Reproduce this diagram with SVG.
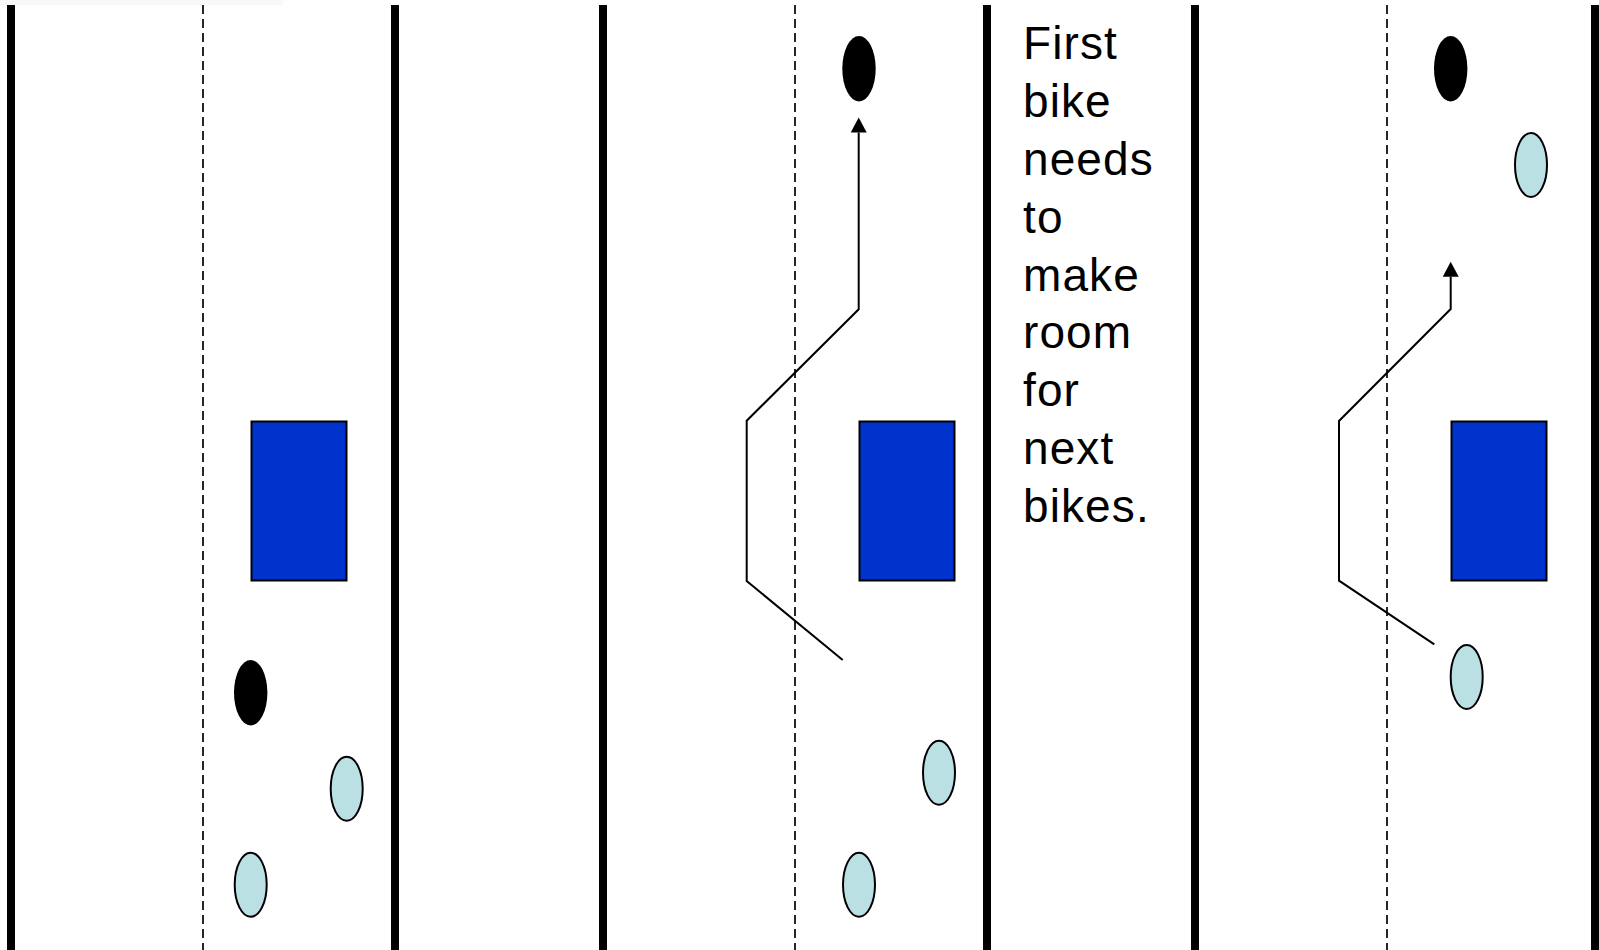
<svg xmlns="http://www.w3.org/2000/svg" width="1599" height="950" viewBox="0 0 1599 950">
<style>
.curb{stroke:#000;stroke-width:8;fill:none}
.lane{stroke:#000;stroke-width:1.7;stroke-dasharray:9 5;fill:none}
.car{fill:#0033CC;stroke:#000;stroke-width:2}
.lead{fill:#000;stroke:none}
.bike{fill:#BBE0E3;stroke:#000;stroke-width:2}
.path{fill:none;stroke:#000;stroke-width:2;stroke-linejoin:miter}
.label{font-family:"Liberation Sans",Arial,sans-serif;font-size:46px;letter-spacing:1.1px;fill:#000}
</style>
<defs>
<marker id="arrow" markerUnits="userSpaceOnUse" markerWidth="16" markerHeight="16" refX="0" refY="8" orient="auto" viewBox="0 0 16 16">
<path d="M0,0 L15,8 L0,16 z" fill="#000"/>
</marker>
</defs>
<rect x="0" y="0" width="1599" height="950" fill="#fff"/>
<rect x="0" y="0" width="283" height="5" fill="#f8f8f8"/>
<g id="road">
<line class="curb" x1="11" y1="5" x2="11" y2="950"/>
<line class="curb" x1="395" y1="5" x2="395" y2="950"/>
<line class="curb" x1="603" y1="5" x2="603" y2="950"/>
<line class="curb" x1="987" y1="5" x2="987" y2="950"/>
<line class="curb" x1="1195" y1="5" x2="1195" y2="950"/>
<line class="curb" x1="1595" y1="5" x2="1595" y2="950"/>
<line class="lane" x1="203" y1="5" x2="203" y2="950"/>
<line class="lane" x1="795" y1="5" x2="795" y2="950"/>
<line class="lane" x1="1387" y1="5" x2="1387" y2="950"/>
</g>
<g id="panel1">
<rect id="car1" class="car" x="251.5" y="421.5" width="95" height="159"/>
<ellipse id="lead1" class="lead" cx="250.7" cy="692.7" rx="16.7" ry="32.7"/>
<ellipse id="bike1a" class="bike" cx="346.7" cy="788.7" rx="16" ry="32"/>
<ellipse id="bike1b" class="bike" cx="250.7" cy="884.7" rx="16" ry="32"/>
</g>
<g id="panel2">
<rect id="car2" class="car" x="859.5" y="421.5" width="95" height="159"/>
<ellipse id="lead2" class="lead" cx="859" cy="68.7" rx="16.7" ry="32.7"/>
<ellipse id="bike2a" class="bike" cx="939" cy="772.7" rx="16" ry="32"/>
<ellipse id="bike2b" class="bike" cx="859" cy="884.7" rx="16" ry="32"/>
</g>
<g id="panel3">
<rect id="car3" class="car" x="1451.5" y="421.5" width="95" height="159"/>
<ellipse id="lead3" class="lead" cx="1450.7" cy="68.7" rx="16.7" ry="32.7"/>
<ellipse id="bike3a" class="bike" cx="1531" cy="165" rx="16" ry="32"/>
<ellipse id="bike3b" class="bike" cx="1466.7" cy="677" rx="16" ry="32"/>
</g>
<g id="connectors">
<path class="path" d="M842.7,660 L746.7,581 L746.7,420.7 L858.7,309.3 L858.7,132.5" marker-end="url(#arrow)"/>
<path class="path" d="M1434.3,644.3 L1339,580.7 L1339,421 L1450.7,309 L1450.7,276.7" marker-end="url(#arrow)"/>
</g>
<g id="caption">
<text class="label" x="1023" y="59.3">First</text>
<text class="label" x="1023" y="117.1">bike</text>
<text class="label" x="1023" y="174.9">needs</text>
<text class="label" x="1023" y="232.7">to</text>
<text class="label" x="1023" y="290.5">make</text>
<text class="label" x="1023" y="348.3">room</text>
<text class="label" x="1023" y="406.1">for</text>
<text class="label" x="1023" y="463.9">next</text>
<text class="label" x="1023" y="521.7">bikes.</text>
</g>
</svg>
